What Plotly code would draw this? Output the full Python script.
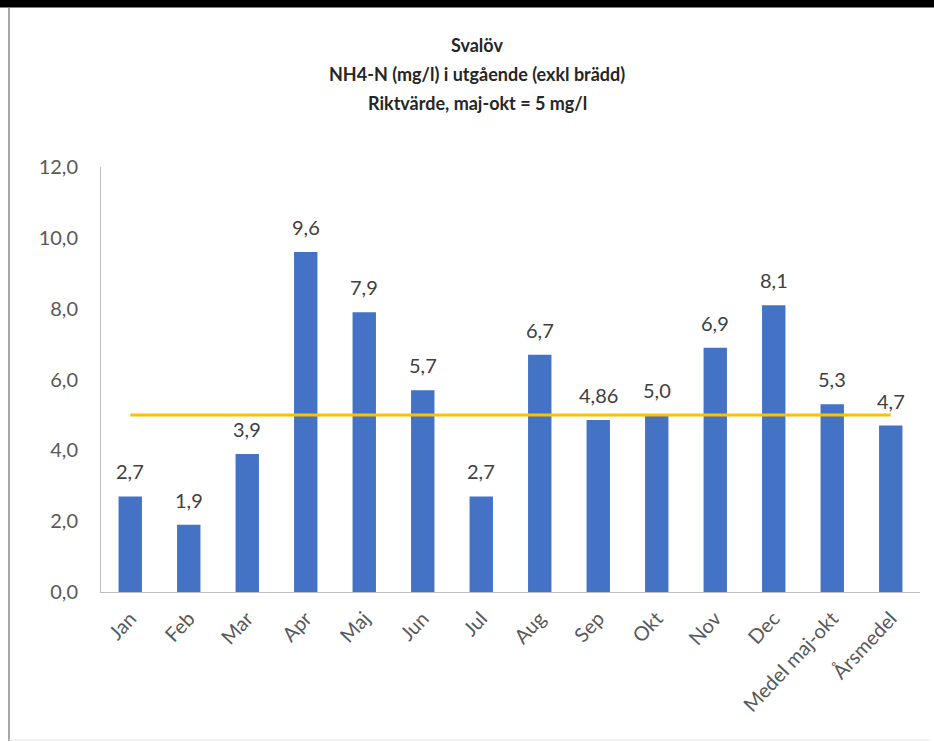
import plotly.graph_objects as go

categories = ["Jan", "Feb", "Mar", "Apr", "Maj", "Jun", "Jul", "Aug", "Sep", "Okt",
              "Nov", "Dec", "Medel maj-okt", "Årsmedel"]
values = [2.7, 1.9, 3.9, 9.6, 7.9, 5.7, 2.7, 6.7, 4.86, 5.0, 6.9, 8.1, 5.3, 4.7]
label_decimals = [1, 1, 1, 1, 1, 1, 1, 1, 2, 1, 1, 1, 1, 1]
riktvarde = [5] * len(categories)
title_lines = ["Svalöv", "NH4-N (mg/l) i utgående (exkl brädd)", "Riktvärde, maj-okt = 5 mg/l"]

FONT = "Lato"
W, H = 934, 742
L, R, T, B = 101, 14, 167, 150
pw, ph = W - L - R, H - T - B

def px_x(px):
    return (px - L) / pw

def px_y(py):
    return (H - B - py) / ph

fig = go.Figure()
fig.add_trace(go.Bar(x=categories, y=values, marker=dict(color="#4472C4", line=dict(width=0)),
                     hoverinfo="x+y", showlegend=False))
fig.add_trace(go.Scatter(x=categories, y=riktvarde, mode="lines",
                         line=dict(color="#FFC000", width=3), showlegend=False))

annotations = []
for c, v, d in zip(categories, values, label_decimals):
    txt = f"{v:.{d}f}".replace(".", ",")
    annotations.append(dict(x=c, y=v, xref="x", yref="y", text=txt, showarrow=False,
                            yanchor="bottom", yshift=11,
                            font=dict(family=FONT, size=20, color="#404040")))
for i, (line, py) in enumerate(zip(title_lines, [45, 74, 103])):
    annotations.append(dict(x=px_x(477), y=px_y(py), xref="paper", yref="paper",
                            text=f"<b>{line}</b>", showarrow=False, xanchor="center",
                            yanchor="middle",
                            font=dict(family=FONT, size=18, color="#262626")))

shapes = [
    dict(type="rect", xref="paper", yref="paper", x0=px_x(0), x1=px_x(W), y0=px_y(7.5), y1=px_y(-2),
         fillcolor="black", line=dict(width=0), layer="above"),
    dict(type="line", xref="paper", yref="paper", x0=px_x(9), x1=px_x(9), y0=px_y(8), y1=px_y(741),
         line=dict(color="#A6A6A6", width=2)),
    dict(type="line", xref="paper", yref="paper", x0=px_x(9), x1=px_x(930), y0=px_y(740), y1=px_y(740),
         line=dict(color="#E6E6E6", width=1)),
]

fig.update_layout(
    width=W, height=H,
    margin=dict(l=L, r=R, t=T, b=B, pad=0),
    paper_bgcolor="white", plot_bgcolor="white",
    separators=",.",
    bargap=0.6,
    annotations=annotations,
    shapes=shapes,
    font=dict(family=FONT, size=16, color="#595959"),
)
fig.update_yaxes(range=[0, 12], dtick=2, tickformat=".1f", showgrid=False, zeroline=False,
                 showline=True, linecolor="#BFBFBF", linewidth=1, ticks="",
                 tickfont=dict(family=FONT, size=20, color="#595959"), ticklabelstandoff=18)
fig.update_xaxes(showgrid=False, showline=True, linecolor="#BFBFBF", linewidth=1, ticks="",
                 tickangle=-47, ticklabelstandoff=6,
                 tickfont=dict(family=FONT, size=20, color="#595959"))

fig.write_html("out.html")
